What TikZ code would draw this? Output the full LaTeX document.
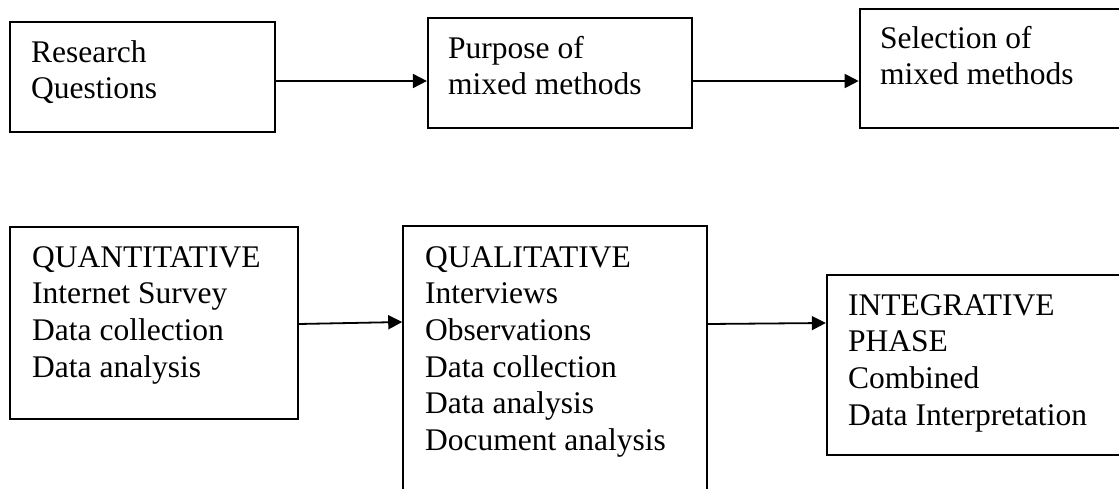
\documentclass[tikz,border=0pt]{standalone}
\usepackage{fontspec}
\setmainfont{Liberation Serif}
\usetikzlibrary{arrows.meta}
\begin{document}
\begin{tikzpicture}[x=1pt,y=-1pt,
  box/.style={draw, rectangle, inner sep=0pt, line width=1.6pt},
  txt/.style={anchor=north west, inner sep=0pt, align=left, font=\fontsize{31.5}{36.6}\selectfont},
  arr/.style={-{Triangle[length=14pt,width=14pt]}, line width=1.8pt}]
\useasboundingbox (0,0) rectangle (1119,489);
\clip (0,0) rectangle (1119,489);
% boxes
\node[box, minimum width=265pt, minimum height=110pt] (b1) at (142.5,77) {};
\node[box, line width=2.2pt, minimum width=264pt, minimum height=110pt] (b2) at (560,73) {};
\node[box, line width=2.6pt, minimum width=270pt, minimum height=119pt] (b3) at (995,68.5) {};
\node[box, minimum width=288pt, minimum height=192pt] (b4) at (154,323) {};
\node[box, minimum width=304pt, minimum height=274pt] (b5) at (555,363) {};
\node[box, line width=2.4pt, minimum width=302pt, minimum height=180pt] (b6) at (978,365) {};
% texts
\node[txt] (t1) at (31,36.4) {\strut Research\\\strut Questions};
\node[txt] (t2) at (448,32.4) {\strut Purpose of\\\strut mixed methods};
\node[txt] (t3) at (880,22.4) {\strut Selection of\\\strut mixed methods};
\node[txt] (t4) at (32,241.4) {\strut QUANTITATIVE\\\strut Internet Survey\\\strut Data collection\\\strut Data analysis};
\node[txt] (t5) at (425,241.4) {\strut QUALITATIVE\\\strut Interviews\\\strut Observations\\\strut Data collection\\\strut Data analysis\\\strut Document analysis};
\node[txt] (t6) at (848,289.4) {\strut INTEGRATIVE\\\strut PHASE\\\strut Combined\\\strut Data Interpretation};
% arrows
\draw[arr] (b1.east |- 0,81) -- (b2.west |- 0,81);
\draw[arr] (b2.east |- 0,81) -- (b3.west |- 0,81);
\draw[arr] (b4.east |- 0,324) -- (b5.west |- 0,322);
\draw[arr] (b5.east |- 0,324) -- (b6.west |- 0,323);
\end{tikzpicture}
\end{document}
